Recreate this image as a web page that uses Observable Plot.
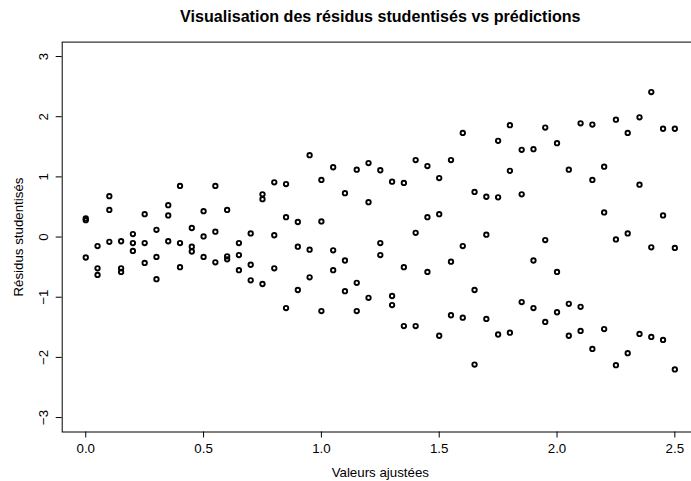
<!DOCTYPE html>
<html><head><meta charset="utf-8">
<script src="https://cdn.jsdelivr.net/npm/d3@7"></script>
<script src="https://cdn.jsdelivr.net/npm/@observablehq/plot@0.6"></script>
<style>body{margin:0;background:#fff;overflow:hidden} #chart svg{display:block;overflow:visible}</style>
</head><body><div id="chart"></div><script>
const titre = "Visualisation des résidus studentisés vs prédictions";
const titreX = "Valeurs ajustées";
const titreY = "Résidus studentisés";

const valeursAjustees = [0.00,0.05,0.10,0.15,0.20,0.25,0.30,0.35,0.40,0.45,0.50,0.55,0.60,0.65,0.70,0.75,0.80,0.85,0.90,0.95,1.00,1.05,1.10,1.15,1.20,1.25,1.30,1.35,1.40,1.45,1.50,1.55,1.60,1.65,1.70,1.75,1.80,1.85,1.90,1.95,2.00,2.05,2.10,2.15,2.20,2.25,2.30,2.35,2.40,2.45,2.50];
const residusA = [0.31,-0.15,0.68,-0.07,0.05,0.38,0.12,0.53,0.85,0.15,0.43,0.85,0.45,-0.10,0.06,0.71,0.91,0.88,0.25,1.36,0.95,1.16,0.73,1.12,1.23,1.11,0.92,0.90,1.28,1.18,0.98,1.28,1.73,0.75,0.67,1.60,1.86,1.45,1.46,1.82,1.56,1.12,1.89,1.87,1.17,1.95,1.73,1.99,2.41,1.80,1.80];
const residusB = [0.28,-0.52,0.45,-0.52,-0.10,-0.10,-0.33,0.36,-0.10,-0.16,0.01,0.09,-0.32,-0.30,-0.46,0.63,0.03,0.33,-0.16,-0.21,0.26,-0.22,-0.39,-0.76,0.58,-0.10,-0.98,-0.50,0.07,0.33,0.38,-0.41,-0.15,-0.88,0.04,0.66,1.10,0.71,-0.39,-0.05,-0.58,-1.11,-1.16,0.95,0.41,-0.04,0.06,0.87,-0.17,0.36,-0.18];
const residusC = [-0.34,-0.63,-0.08,-0.58,-0.23,-0.43,-0.70,-0.07,-0.50,-0.24,-0.33,-0.42,-0.37,-0.55,-0.72,-0.78,-0.52,-1.18,-0.88,-0.67,-1.23,-0.55,-0.90,-1.23,-1.01,-0.30,-1.13,-1.48,-1.48,-0.58,-1.64,-1.30,-1.34,-2.12,-1.36,-1.62,-1.59,-1.08,-1.18,-1.41,-1.25,-1.64,-1.56,-1.86,-1.53,-2.13,-1.93,-1.61,-1.66,-1.71,-2.20];

const xTicks = [0, 0.5, 1, 1.5, 2, 2.5];
const xTickLabels = ["0.0", "0.5", "1.0", "1.5", "2.0", "2.5"];
const yTicks = [-3, -2, -1, 0, 1, 2, 3];
const yTickLabels = ["−3", "−2", "−1", "0", "1", "2", "3"];

const points = [];
for (const serie of [residusA, residusB, residusC]) {
  valeursAjustees.forEach((x, i) => points.push({x, r: serie[i]}));
}

const chart = Plot.plot({
  width: 691, height: 481,
  marginLeft: 61.7, marginRight: -6.9, marginTop: 41.6, marginBottom: 49.5,
  style: {fontFamily: "'Liberation Sans', Arial, Helvetica, sans-serif", background: "#fff", color: "#000", overflow: "visible"},
  x: {domain: [-0.1, 2.6]},
  y: {domain: [-3.24, 3.24]},
  marks: [
    Plot.frame({stroke: "#000", strokeWidth: 1}),
    Plot.axisX(xTicks, {tickSize: 6, tickPadding: 6, fontSize: 13.3, label: null,
      tickFormat: d => xTickLabels[xTicks.indexOf(d)]}),
    Plot.axisY(yTicks, {tickSize: 6, tickPadding: 8, tickRotate: -90, fontSize: 13.3, label: null,
      tickFormat: d => yTickLabels[yTicks.indexOf(d)]}),
    Plot.dot(points, {x: "x", y: "r", r: 2.2, stroke: "#000", strokeWidth: 1.9, fill: "none"}),
    Plot.text([titre], {frameAnchor: "top", dy: -25, fontSize: 16.1, fontWeight: "bold", textAnchor: "middle", lineAnchor: "middle"}),
    Plot.text([titreX], {frameAnchor: "bottom", dy: 40.5, fontSize: 13.3, textAnchor: "middle", lineAnchor: "middle"}),
    Plot.text([titreY], {frameAnchor: "left", dx: -43, rotate: -90, fontSize: 13.3, textAnchor: "middle", lineAnchor: "middle"})
  ]
});
document.getElementById("chart").appendChild(chart);
</script></body></html>
